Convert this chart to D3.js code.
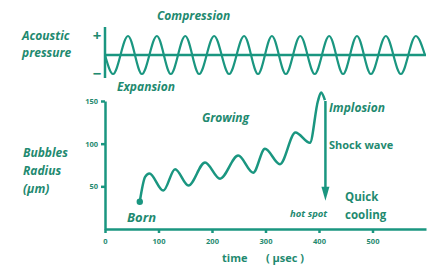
<!DOCTYPE html>
<html>
<head>
<meta charset="utf-8">
<script src="https://cdn.jsdelivr.net/npm/d3@7"></script>
<style>
  body { margin: 0; background: #fff; }
  svg { display: block; }
  text { font-family: "Open Sans", sans-serif; font-weight: bold; fill: #1f8a70; }
  .it { font-style: italic; }
  .axis path, .axis line { stroke: #1a9680; stroke-width: 2.5; }
  .axis text { font-size: 7.5px; font-family: "Open Sans", sans-serif; font-weight: bold; fill: #1f8a70; }
</style>
</head>
<body>
<svg id="chart" width="428" height="273"></svg>
<script>
var timeTicks = [0, 100, 200, 300, 400, 500];
var radiusTicks = [50, 100, 150];

/* akoestische druk: extremen van de golf (tijd in usec, druk -1..1) */
var pressureTimes  = [0, 15, 43, 69, 97, 123, 150, 176, 204, 232, 260, 286, 312, 338, 365, 392, 419, 445, 471, 497, 525, 553, 581, 598];
var pressureValues = [0, -1, 1, -1, 1, -1, 1, -1, 1, -1, 1, -1, 1, -1, 1, -1, 1, -1, 1, -1, 1, -1, 1, 0];

/* straal van de bel */
var radiusTimes  = [65, 75, 83, 109, 131, 156, 187, 215, 249, 277, 299, 327, 356, 383, 398, 404, 411];
var radiusValues = [32, 61, 65, 45, 70, 51, 78, 59, 86, 66, 94, 76, 113, 101, 150, 160, 151];

/* shock wave pijl: van de top naar de hot spot */
var arrowTime = 412;
var arrowFrom = 150, arrowTo = 33;

var svg = d3.select("#chart");
var color = "#1a9680";

var x = d3.scaleLinear().domain([0, 600]).range([105, 426]);
var y = d3.scaleLinear().domain([0, 150]).range([229, 101]);
var yP = d3.scaleLinear().domain([-1, 1]).range([74, 36]);

/* bovenste grafiek: druk */
svg.append("line")
    .attr("x1", x(0)).attr("x2", x(0))
    .attr("y1", 27).attr("y2", 78)
    .attr("stroke", color).attr("stroke-width", 2.5);

svg.append("line")
    .attr("x1", x(0)).attr("x2", x(600))
    .attr("y1", yP(0)).attr("y2", yP(0))
    .attr("stroke", color).attr("stroke-width", 2.5);

svg.append("text").attr("x", 97).attr("y", yP(1) + 5)
    .attr("text-anchor", "middle").style("font-size", "15px").text("+");
svg.append("text").attr("x", 97).attr("y", yP(-1) + 5)
    .attr("text-anchor", "middle").style("font-size", "15px").text("\u2212");

var pressureLine = d3.line()
    .x(function(d, i) { return x(pressureTimes[i]); })
    .y(function(d) { return yP(d); })
    .curve(d3.curveMonotoneX);

svg.append("path")
    .datum(pressureValues)
    .attr("d", pressureLine)
    .attr("fill", "none")
    .attr("stroke", color)
    .attr("stroke-width", 2.2);

/* onderste grafiek: straal */
svg.append("g")
    .attr("class", "axis")
    .attr("transform", "translate(0," + y(0) + ")")
    .call(d3.axisBottom(x).tickValues(timeTicks).tickSize(4).tickSizeOuter(0).tickPadding(6));

svg.append("g")
    .attr("class", "axis")
    .attr("transform", "translate(" + x(0) + ",0)")
    .call(d3.axisLeft(y).tickValues(radiusTicks).tickSize(4).tickSizeOuter(0).tickPadding(3));

var radiusLine = d3.line()
    .x(function(d, i) { return x(radiusTimes[i]); })
    .y(function(d) { return y(d); })
    .curve(d3.curveMonotoneX);

svg.append("path")
    .datum(radiusValues)
    .attr("d", radiusLine)
    .attr("fill", "none")
    .attr("stroke", color)
    .attr("stroke-width", 2.5)
    .attr("stroke-linejoin", "round");

svg.append("circle")
    .attr("cx", x(radiusTimes[0]))
    .attr("cy", y(radiusValues[0]))
    .attr("r", 3.2)
    .attr("fill", color);

/* pijl */
svg.append("line")
    .attr("x1", x(arrowTime)).attr("x2", x(arrowTime))
    .attr("y1", y(arrowFrom)).attr("y2", y(arrowTo) - 12)
    .attr("stroke", color).attr("stroke-width", 2.5);

svg.append("path")
    .attr("d", "M" + (x(arrowTime) - 4) + "," + (y(arrowTo) - 14) +
               "L" + (x(arrowTime) + 4) + "," + (y(arrowTo) - 14) +
               "L" + x(arrowTime) + "," + y(arrowTo) + "Z")
    .attr("fill", color);

/* labels */
function label(tx, ty, str, size, italic, anchor) {
  svg.append("text")
      .attr("x", tx).attr("y", ty)
      .attr("class", italic ? "it" : null)
      .attr("text-anchor", anchor || "start")
      .style("font-size", size + "px")
      .text(str);
}

label(22, 40, "Acoustic", 12, true);
label(22, 57, "pressure", 12, true);
label(157, 20, "Compression", 12, true);
label(117, 91, "Expansion", 12, true);
label(23, 157, "Bubbles", 12, true);
label(23, 175, "Radius", 12, true);
label(23, 193, "(\u00b5m)", 12, true);
label(127, 222, "Born", 13, true);
label(202, 122, "Growing", 12, true);
label(329, 112, "Implosion", 12, true);
label(329, 149, "Shock wave", 11, false);
label(345, 201, "Quick", 11.5, false);
label(345, 219, "cooling", 11.5, false);
label(290, 217, "hot spot", 9.5, true);
label(222, 262, "time", 11, false);
label(266, 262, "( \u00b5sec )", 11, false);
</script>
</body>
</html>
